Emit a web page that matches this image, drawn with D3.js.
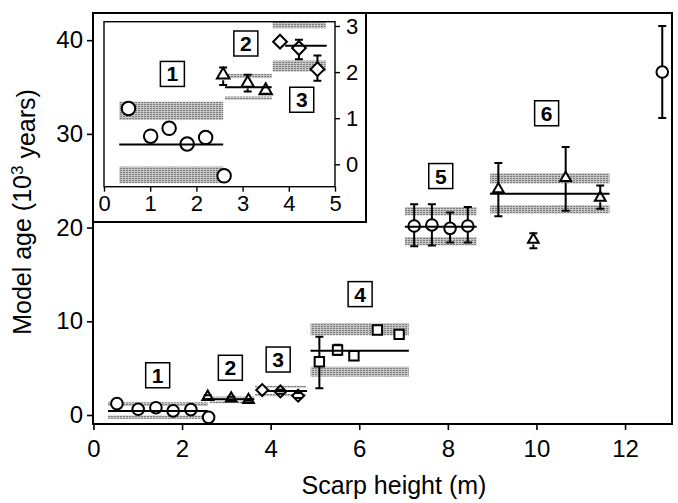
<!DOCTYPE html>
<html>
<head>
<meta charset="utf-8">
<script src="https://cdn.jsdelivr.net/npm/d3@7/dist/d3.min.js"></script>
<style>
	body { margin: 0; background: #fff; }
	svg { display: block; font-family: 'Liberation Sans', Arial, sans-serif; }
</style>
</head>
<body>
<svg id="chart" width="678" height="503"></svg>
<script>
// scarp height (m) and model age (10^3 years) per scarp group
const g1Height = [0.53, 1.01, 1.41, 1.80, 2.20, 2.60];
const g1Age = [1.21, 0.61, 0.78, 0.44, 0.58, -0.25];
const g1ErrTop = [null, null, null, null, null, null];
const g1ErrBot = [null, null, null, null, null, null];

const g2Height = [2.58, 3.11, 3.50];
const g2Age = [1.94, 1.76, 1.60];
const g2ErrTop = [2.10, 1.94, 1.67];
const g2ErrBot = [1.72, 1.58, 1.53];

const g3Height = [3.81, 4.22, 4.62];
const g3Age = [2.66, 2.52, 2.06];
const g3ErrTop = [null, 2.70, 2.36];
const g3ErrBot = [null, 2.28, 1.81];

const g4Height = [5.10, 5.51, 5.88, 6.41, 6.90];
const g4Age = [5.69, 6.94, 6.33, 9.07, 8.61];
const g4ErrTop = [8.36, 7.5, null, null, null];
const g4ErrBot = [2.85, 6.4, null, null, null];

const g5Height = [7.24, 7.64, 8.05, 8.45];
const g5Age = [20.17, 20.28, 19.92, 20.17];
const g5ErrTop = [22.5, 22.5, 21.6, 22.2];
const g5ErrBot = [18.0, 18.1, 18.4, 18.4];

const g6Height = [9.14, 9.93, 10.66, 11.44];
const g6Age = [24.1, 18.7, 25.3, 23.2];
const g6ErrTop = [26.9, 19.4, 28.6, 24.5];
const g6ErrBot = [21.2, 17.8, 21.8, 22.0];

const g7Height = [12.84];
const g7Age = [36.6];
const g7ErrTop = [41.5];
const g7ErrBot = [31.7];

// group mean age and its spread (shaded bands)
const groupMean = [0.43, 1.67, 2.57, 6.86, 20.1, 23.6];
const meanFrom = [0.33, 2.62, 3.92, 4.9, 7.03, 8.95];
const meanTo = [2.58, 3.63, 4.82, 7.12, 8.65, 11.65];
const bandUpperTop = [1.36, 1.96, 3.12, 9.8, 22.2, 25.8];
const bandUpperBot = [0.96, 1.87, 2.95, 8.5, 21.3, 24.7];
const bandLowerTop = [-0.05, 1.47, 2.25, 5.15, 19.0, 22.4];
const bandLowerBot = [-0.41, 1.40, 2.01, 4.1, 18.1, 21.5];
const bandFrom = [0.33, 2.62, 3.65, 4.9, 7.03, 8.95];
const bandTo = [2.58, 3.63, 4.8, 7.12, 8.65, 11.65];

const groupLabels = ['1', '2', '3', '4', '5', '6'];
const labelHeight = [1.45, 3.09, 4.17, 6.02, 7.84, 10.23];
const labelAge = [4.24, 5.04, 5.92, 12.9, 25.5, 32.2];
const insetLabelHeight = [1.48, 3.07, 4.28];
const insetLabelAge = [1.96, 2.62, 1.40];

const xTicks = [0, 2, 4, 6, 8, 10, 12];
const yTicks = [0, 10, 20, 30, 40];
const insetXTicks = [0, 1, 2, 3, 4, 5];
const insetYTicks = [0, 1, 2, 3];

const pack = (hs, as, tops, bots, shape) => hs.map((h, i) => ({ h: h, a: as[i], top: tops[i], bot: bots[i], shape: shape }));
const groups = [
	pack(g1Height, g1Age, g1ErrTop, g1ErrBot, 'circle'),
	pack(g2Height, g2Age, g2ErrTop, g2ErrBot, 'triangle'),
	pack(g3Height, g3Age, g3ErrTop, g3ErrBot, 'diamond'),
	pack(g4Height, g4Age, g4ErrTop, g4ErrBot, 'square'),
	pack(g5Height, g5Age, g5ErrTop, g5ErrBot, 'circle'),
	pack(g6Height, g6Age, g6ErrTop, g6ErrBot, 'triangle'),
	pack(g7Height, g7Age, g7ErrTop, g7ErrBot, 'circle')
];
const points = groups.flat();
const stats = groupMean.map((m, i) => ({
	mean: m, from: meanFrom[i], to: meanTo[i],
	bands: [[bandUpperBot[i], bandUpperTop[i]], [bandLowerBot[i], bandLowerTop[i]]],
	bFrom: bandFrom[i], bTo: bandTo[i]
}));

const svg = d3.select('#chart');
const plotLeft = 93, plotRight = 672, plotTop = 13, plotBottom = 424;

const x = d3.scaleLinear().domain([-0.01, 13.06]).range([plotLeft, plotRight]);
const y = d3.scaleLinear().domain([-0.96, 42.9]).range([plotBottom, plotTop]);

const markerArea = { circle: 106, triangle: 50, square: 88, diamond: 70 };
const symbolType = { circle: d3.symbolCircle, triangle: d3.symbolTriangle, square: d3.symbolSquare, diamond: d3.symbolSquare };
// half height of each marker, error bar stems start there
const halfSize = (shape, scale) => {
	const area = markerArea[shape] * scale;
	if (shape === 'circle') return Math.sqrt(area / Math.PI);
	if (shape === 'triangle') return 0.5 * Math.sqrt(area / 0.433) * 0.866;
	if (shape === 'square') return Math.sqrt(area) / 2;
	return Math.sqrt(area) * Math.SQRT1_2;
};

// draws bands, markers, error bars and mean lines into a group with given scales
const drawPanel = (g, sx, sy, statList, pointList, scale) => {
	statList.forEach((s) => {
		s.bands.forEach((b) => {
			g.append('rect')
				.attr('x', sx(s.bFrom))
				.attr('y', sy(b[1]))
				.attr('width', sx(s.bTo) - sx(s.bFrom))
				.attr('height', Math.max(2, sy(b[0]) - sy(b[1])))
				.attr('fill', 'url(#halftone)');
		});
	});

	g.selectAll('.mark')
		.data(pointList)
		.enter()
		.append('path')
		.attr('class', 'mark')
		.attr('d', (p) => d3.symbol(symbolType[p.shape], markerArea[p.shape] * scale)())
		.attr('transform', (p) => `translate(${sx(p.h)},${sy(p.a)})` + (p.shape === 'diamond' ? ' rotate(45)' : ''))
		.attr('fill', '#fff')
		.attr('stroke', '#000')
		.attr('stroke-width', 2);

	const withErr = pointList.filter((p) => p.top != null);
	g.selectAll('.err')
		.data(withErr)
		.enter()
		.append('path')
		.attr('class', 'err')
		.attr('d', (p) => {
			const cx = sx(p.h), cy = sy(p.a), t = sy(p.top), b = sy(p.bot), w = 4;
			const r = halfSize(p.shape, scale);
			let d = `M${cx - w},${t}H${cx + w}M${cx - w},${b}H${cx + w}`;
			if (t < cy - r) d += `M${cx},${t}V${cy - r}`;
			if (b > cy + r) d += `M${cx},${cy + r}V${b}`;
			return d;
		})
		.attr('stroke', '#000')
		.attr('stroke-width', 2)
		.attr('fill', 'none');

	g.selectAll('.mean')
		.data(statList)
		.enter()
		.append('line')
		.attr('class', 'mean')
		.attr('x1', (s) => sx(s.from))
		.attr('x2', (s) => sx(s.to))
		.attr('y1', (s) => sy(s.mean))
		.attr('y2', (s) => sy(s.mean))
		.attr('stroke', '#000')
		.attr('stroke-width', 2);
};

const drawLabels = (g, sx, sy, labels, hs, as) => {
	const lab = g.selectAll('.lab')
		.data(labels)
		.enter()
		.append('g')
		.attr('transform', (d, i) => `translate(${sx(hs[i])},${sy(as[i])})`);
	lab.append('rect')
		.attr('x', -12).attr('y', -12.5).attr('width', 24).attr('height', 25)
		.attr('fill', '#fff').attr('stroke', '#000').attr('stroke-width', 1.5);
	lab.append('text')
		.attr('text-anchor', 'middle')
		.attr('dy', '0.36em')
		.style('font-size', '21px')
		.style('font-weight', 'bold')
		.text((d) => d);
};

const defs = svg.append('defs');
const pat = defs.append('pattern')
	.attr('id', 'halftone')
	.attr('width', 3).attr('height', 2)
	.attr('patternUnits', 'userSpaceOnUse');
pat.append('rect').attr('width', 3).attr('height', 2).attr('fill', '#c6c6c6');
pat.append('rect').attr('width', 2).attr('height', 1).attr('fill', '#7a7a7a');

// main panel
const main = svg.append('g');
drawPanel(main, x, y, stats, points, 1);
drawLabels(main, x, y, groupLabels, labelHeight, labelAge);

main.append('rect')
	.attr('x', plotLeft).attr('y', plotTop).attr('width', plotRight - plotLeft).attr('height', plotBottom - plotTop)
	.attr('fill', 'none').attr('stroke', '#000').attr('stroke-width', 2);

const xAxis = main.append('g')
	.attr('transform', `translate(0,${plotBottom})`)
	.call(d3.axisBottom(x).tickValues(xTicks).tickSize(6).tickPadding(10));
const yAxis = main.append('g')
	.attr('transform', `translate(${plotLeft},0)`)
	.call(d3.axisLeft(y).tickValues(yTicks).tickSize(6).tickPadding(4));
[xAxis, yAxis].forEach((a) => {
	a.select('.domain').remove();
	a.selectAll('line').attr('stroke-width', 1.6);
	a.selectAll('text').style('font-size', '24px').style('font-family', 'Liberation Sans, Arial, sans-serif').attr('fill', '#000');
});

svg.append('text')
	.attr('x', 394)
	.attr('y', 494)
	.attr('text-anchor', 'middle')
	.style('font-size', '25px')
	.text('Scarp height (m)');

const yTitle = svg.append('text')
	.attr('transform', 'translate(31,212) rotate(-90)')
	.attr('text-anchor', 'middle')
	.style('font-size', '25px');
yTitle.append('tspan').text('Model age (10');
yTitle.append('tspan').attr('dy', '-0.45em').style('font-size', '17px').text('3');
yTitle.append('tspan').attr('dy', '0.45em').text(' years)');

// inset: zoom on groups 1-3
const inLeft = 104, inRight = 335, inTop = 21.7, inBottom = 186.7;
const ix = d3.scaleLinear().domain([0, 5]).range([inLeft, inRight]);
const iy = d3.scaleLinear().domain([-0.486, 3.093]).range([inBottom, inTop]);

const inset = svg.append('g');
inset.append('rect')
	.attr('x', plotLeft).attr('y', plotTop).attr('width', 366 - plotLeft).attr('height', 222 - plotTop)
	.attr('fill', '#fff').attr('stroke', '#000').attr('stroke-width', 2);

const clip = defs.append('clipPath').attr('id', 'inclip');
clip.append('rect').attr('x', inLeft).attr('y', inTop).attr('width', inRight - inLeft).attr('height', inBottom - inTop);
const inPanel = inset.append('g').attr('clip-path', 'url(#inclip)');
drawPanel(inPanel, ix, iy, stats.slice(0, 3), groups.slice(0, 3).flat(), 1.35);
drawLabels(inset, ix, iy, groupLabels.slice(0, 3), insetLabelHeight, insetLabelAge);

inset.append('rect')
	.attr('x', inLeft).attr('y', inTop).attr('width', inRight - inLeft).attr('height', inBottom - inTop)
	.attr('fill', 'none').attr('stroke', '#000').attr('stroke-width', 1.4);

const ixAxis = inset.append('g')
	.attr('transform', `translate(0,${inBottom})`)
	.call(d3.axisBottom(ix).tickValues(insetXTicks).tickFormat(d3.format('d')).tickSize(5).tickPadding(4));
const iyAxis = inset.append('g')
	.attr('transform', `translate(${inRight},0)`)
	.call(d3.axisRight(iy).tickValues(insetYTicks).tickFormat(d3.format('d')).tickSize(5).tickPadding(6));
[ixAxis, iyAxis].forEach((a) => {
	a.select('.domain').remove();
	a.selectAll('line').attr('stroke-width', 1.4);
	a.selectAll('text').style('font-size', '22px').style('font-family', 'Liberation Sans, Arial, sans-serif').attr('fill', '#000');
});
</script>
</body>
</html>
